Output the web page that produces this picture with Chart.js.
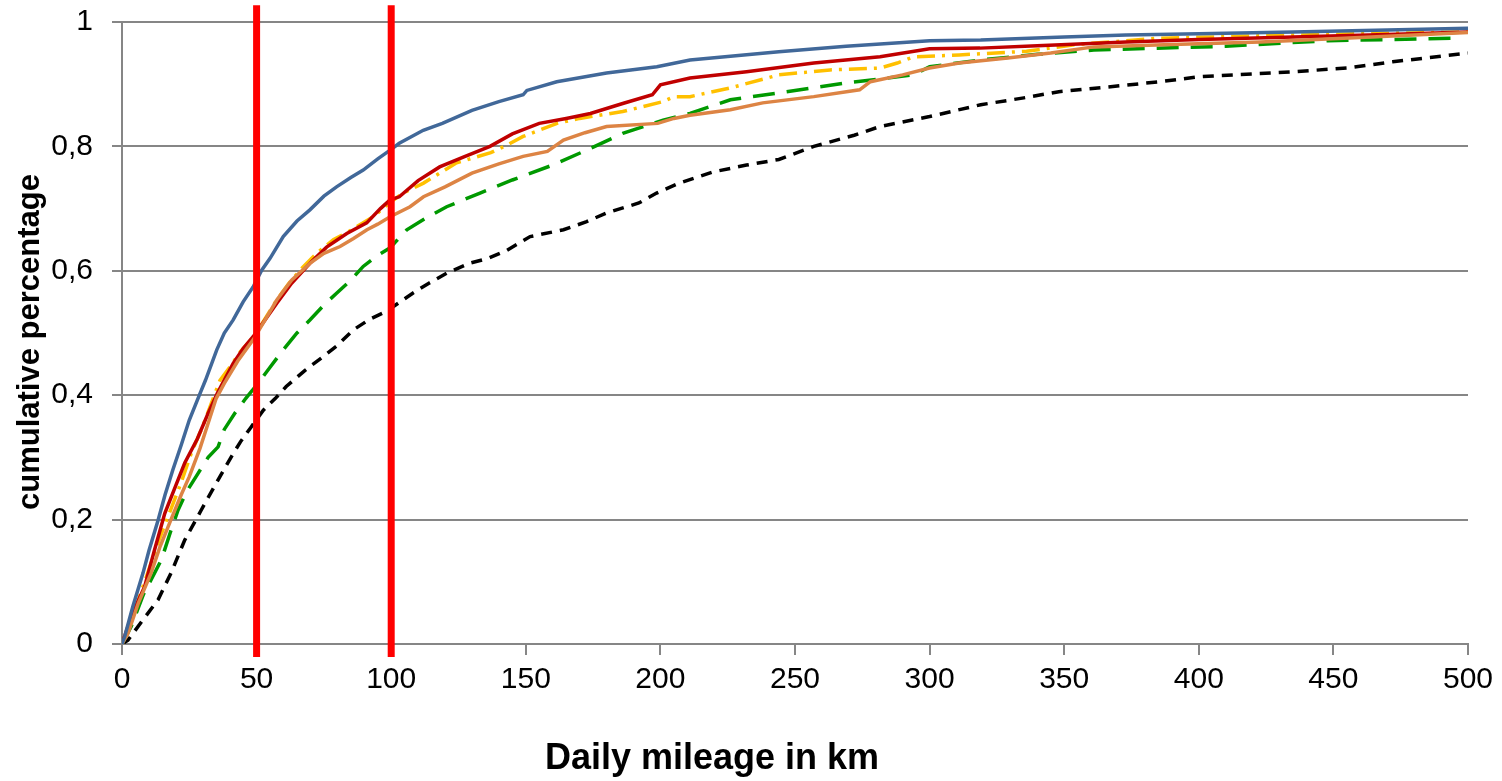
<!DOCTYPE html>
<html>
<head>
<meta charset="utf-8">
<script src="https://cdn.jsdelivr.net/npm/chart.js@4/dist/chart.umd.min.js"></script>
<style>
  body { margin: 0; background: #fff; }
  #wrap { width: 1502px; height: 781px; }
</style>
</head>
<body>
<div id="wrap"><canvas id="cdf" width="1502" height="781"></canvas></div>
<script>
// [km, cumulative share]
const blue = [[0,0],[1,0.012],[4,0.06],[7.8,0.114],[10,0.15],[13.4,0.199],[16,0.24],[18.9,0.28],[22,0.32],[25,0.36],[29,0.403],[31,0.424],[35.2,0.473],[38,0.5],[41.3,0.521],[45,0.55],[48.7,0.574],[51.9,0.601],[55,0.62],[59.9,0.655],[65,0.68],[69.8,0.698],[75,0.72],[79.7,0.735],[85,0.75],[89.6,0.762],[95,0.78],[99.6,0.794],[103,0.805],[111.9,0.826],[119,0.837],[130,0.858],[140,0.872],[149,0.883],[150.4,0.89],[161.5,0.904],[180,0.918],[198.7,0.928],[211,0.939],[244,0.952],[269,0.961],[300,0.97],[319,0.971],[350,0.976],[373,0.979],[400,0.981],[435,0.984],[470,0.987],[500,0.99]];
const red = [[0,0],[2.2,0.028],[5,0.06],[8.4,0.092],[12,0.15],[15.9,0.21],[20,0.255],[23.3,0.291],[28,0.33],[32,0.371],[35.5,0.404],[41.3,0.451],[45,0.475],[48.7,0.494],[53,0.52],[57.5,0.548],[63,0.58],[69.8,0.612],[76,0.638],[83.5,0.66],[90.9,0.677],[96,0.7],[99.6,0.714],[103,0.719],[110,0.745],[118,0.767],[127,0.783],[136.7,0.8],[145,0.82],[155,0.837],[165,0.845],[174,0.853],[186,0.869],[197,0.883],[200,0.899],[211,0.91],[232,0.92],[257,0.934],[281.6,0.944],[300,0.957],[318.7,0.958],[340,0.962],[373,0.968],[400,0.972],[435,0.976],[470,0.98],[500,0.984]];
const yellow = [[0,0],[2.5,0.025],[6,0.07],[10,0.12],[14,0.17],[18,0.215],[22,0.26],[26,0.31],[30,0.35],[33,0.385],[36.4,0.424],[40,0.445],[44,0.47],[48,0.49],[52,0.515],[57,0.55],[62,0.58],[67,0.605],[72.3,0.628],[78.5,0.65],[85,0.665],[93.3,0.687],[99.6,0.71],[104.5,0.725],[112,0.741],[118,0.757],[124,0.773],[130,0.781],[137,0.79],[143,0.802],[149,0.816],[155,0.826],[161.6,0.837],[170,0.845],[186,0.856],[201,0.872],[205,0.88],[211,0.88],[226,0.894],[244,0.915],[263,0.923],[281.6,0.926],[288,0.934],[294,0.944],[311,0.947],[336,0.953],[355,0.964],[385.6,0.974],[435,0.979],[470,0.982],[500,0.984]];
const orange = [[0,0],[2.2,0.017],[6,0.065],[10.8,0.114],[14,0.155],[18.2,0.2],[22,0.24],[25,0.269],[29,0.315],[32,0.355],[35,0.395],[38,0.419],[43,0.455],[48.7,0.489],[53,0.52],[57.5,0.553],[63,0.585],[69.8,0.612],[75,0.628],[81,0.639],[86,0.652],[91,0.666],[95,0.675],[99.6,0.687],[107,0.703],[112,0.719],[120,0.735],[130,0.757],[140,0.772],[149,0.784],[158,0.792],[164,0.81],[172,0.822],[180,0.832],[199,0.837],[205,0.845],[211,0.85],[226,0.859],[238,0.87],[257,0.88],[274,0.891],[278,0.904],[290,0.915],[300,0.926],[311,0.934],[329,0.942],[345,0.95],[361,0.96],[390,0.964],[423,0.968],[460,0.975],[500,0.983]];
const green = [[0,0],[3.4,0.028],[8,0.08],[14.6,0.135],[18,0.18],[20.8,0.215],[24,0.245],[28.2,0.274],[32,0.3],[35.7,0.317],[38,0.345],[41.9,0.371],[46,0.395],[50.5,0.419],[55,0.445],[59.9,0.473],[65,0.5],[69.8,0.521],[75,0.545],[79.7,0.564],[85,0.585],[89.6,0.607],[95,0.625],[99.6,0.637],[105.8,0.666],[113,0.685],[120.6,0.703],[133,0.725],[145,0.746],[160,0.77],[172.6,0.794],[186,0.821],[201,0.842],[211,0.853],[226,0.875],[244,0.886],[269,0.902],[294,0.915],[300,0.928],[319,0.939],[340,0.948],[361,0.955],[410,0.961],[448,0.97],[497,0.974]];
const black = [[0,0],[2.2,0.006],[7.8,0.039],[13.4,0.071],[18.2,0.114],[23.3,0.167],[29.4,0.215],[35.7,0.264],[40.6,0.301],[44,0.325],[48,0.349],[52.5,0.376],[57,0.395],[61,0.414],[68,0.44],[74.7,0.462],[80,0.48],[85.9,0.505],[92,0.522],[98.3,0.535],[108,0.564],[114,0.58],[120.6,0.596],[129,0.612],[136,0.62],[143,0.633],[151.6,0.655],[164,0.666],[172.6,0.679],[180,0.693],[192,0.709],[198.6,0.725],[207,0.741],[219.6,0.759],[232,0.77],[244,0.779],[257,0.8],[272,0.818],[281.6,0.832],[300,0.848],[319,0.867],[335,0.878],[348,0.888],[365,0.895],[385.6,0.904],[400,0.912],[435,0.92],[455,0.926],[472,0.936],[500,0.95]];

// marker lines at 50 km and 100 km
const markers = [50, 100];

const xTicks = [0, 50, 100, 150, 200, 250, 300, 350, 400, 450, 500];
const yTicks = [0, 0.2, 0.4, 0.6, 0.8, 1];

const xTitle = 'Daily mileage in km';
const yTitle = 'cumulative percentage';

const pts = arr => arr.map(p => ({ x: p[0], y: p[1] }));

const curve = (data, color, dash, order) => ({
  data: pts(data),
  borderColor: color,
  borderWidth: 3.5,
  borderDash: dash,
  borderCapStyle: 'butt',
  pointRadius: 0,
  tension: 0,
  order: order
});

const markerSets = markers.map(km => ({
  data: [{ x: km, y: -0.021 }, { x: km, y: 1.027 }],
  borderColor: '#ff0000',
  borderWidth: 7,
  pointRadius: 0,
  clip: false,
  order: 0
}));

// axis titles placed like the original (x title sits left of centre)
const titles = {
  id: 'titles',
  afterDraw(chart) {
    const ctx = chart.ctx;
    ctx.save();
    ctx.fillStyle = '#000';
    ctx.textAlign = 'center';
    ctx.textBaseline = 'middle';
    ctx.font = 'bold 36px "Liberation Sans", Arial, sans-serif';
    ctx.fillText(xTitle, 712, 759);
    ctx.translate(30, 342);
    ctx.rotate(-Math.PI / 2);
    ctx.font = 'bold 31px "Liberation Sans", Arial, sans-serif';
    ctx.fillText(yTitle, 0, 0);
    ctx.restore();
  }
};

new Chart(document.getElementById('cdf'), {
  type: 'line',
  data: {
    datasets: [
      ...markerSets,
      curve(blue, '#416899', [], 1),
      curve(orange, '#dd8444', [], 2),
      curve(red, '#c00000', [], 3),
      curve(yellow, '#ffc000', [18, 7, 3, 7], 4),
      curve(green, '#009900', [22, 12], 5),
      curve(black, '#000000', [11, 8], 6)
    ]
  },
  options: {
    responsive: false,
    animation: false,
    layout: { padding: { left: 0, right: 34, top: 22, bottom: 0 } },
    plugins: { legend: { display: false }, tooltip: { enabled: false } },
    scales: {
      x: {
        type: 'linear',
        min: 0, max: 500,
        afterFit: s => { s.height = 137; },
        afterBuildTicks: s => { s.ticks = xTicks.map(v => ({ value: v })); },
        grid: { drawOnChartArea: false, drawTicks: true, tickLength: 11, color: '#868686', lineWidth: 2 },
        border: { color: '#868686', width: 2 },
        ticks: {
          color: '#000', padding: 7, maxRotation: 0,
          font: { family: '"Liberation Sans", Arial, sans-serif', size: 30 }
        }
      },
      y: {
        type: 'linear',
        min: 0, max: 1,
        afterFit: s => { s.width = 122; },
        afterBuildTicks: s => { s.ticks = yTicks.map(v => ({ value: v })); },
        grid: { color: '#868686', lineWidth: 2, tickLength: 10 },
        border: { color: '#868686', width: 2 },
        ticks: {
          color: '#000', padding: 19,
          font: { family: '"Liberation Sans", Arial, sans-serif', size: 30, lineHeight: 0.05 },
          callback: v => String(Math.round(v * 10) / 10).replace('.', ',')
        }
      }
    }
  },
  plugins: [titles]
});
</script>
</body>
</html>
